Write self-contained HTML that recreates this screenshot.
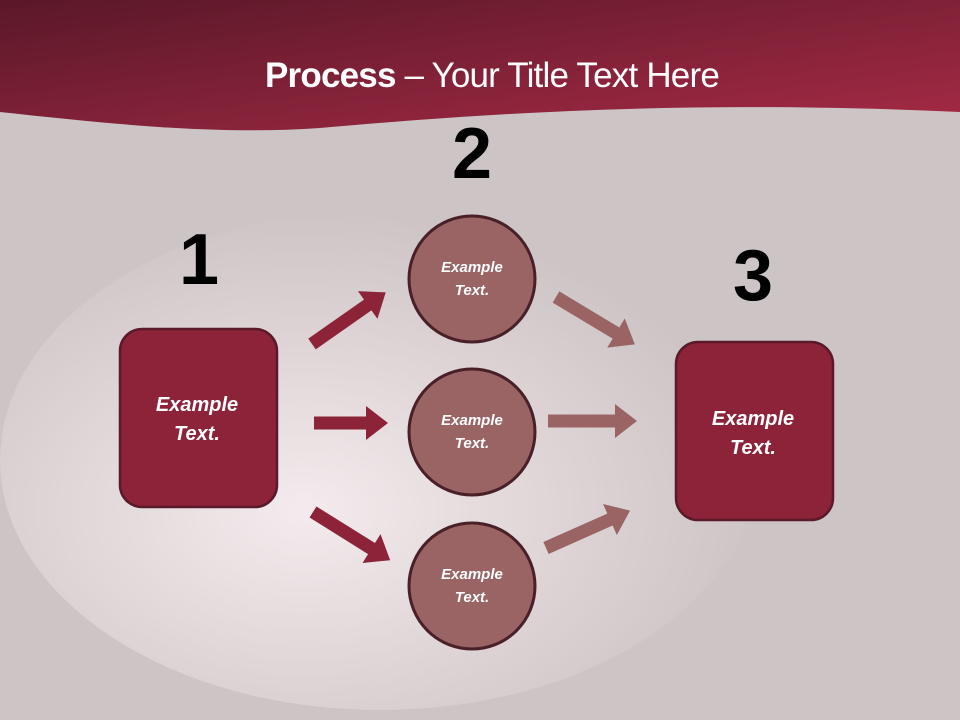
<!DOCTYPE html>
<html><head><meta charset="utf-8"><style>
html,body{margin:0;padding:0;width:960px;height:720px;overflow:hidden;}
svg{display:block;}
text{font-family:"Liberation Sans",sans-serif;}
</style></head><body>
<svg width="960" height="720" viewBox="0 0 960 720" xmlns="http://www.w3.org/2000/svg">
<defs>
<linearGradient id="hd" x1="0" y1="0" x2="1" y2="1">
<stop offset="0" stop-color="#5a1828"/><stop offset="1" stop-color="#a62a46"/>
</linearGradient>
<radialGradient id="bgl" cx="0.4" cy="0.6" r="0.6">
<stop offset="0" stop-color="#f3ebed"/><stop offset="0.6" stop-color="#ddd3d5"/><stop offset="1" stop-color="#cdc4c6"/>
</radialGradient>
</defs>
<rect width="960" height="720" fill="#cdc4c6"/>
<ellipse cx="380" cy="460" rx="380" ry="250" fill="url(#bgl)"/>
<path d="M0,112 C120,125 220,135 320,128 C500,112 700,100 960,112 L960,0 L0,0 Z" fill="url(#hd)"/>
<text x="492" y="87" text-anchor="middle" fill="#fff" font-size="35" letter-spacing="-0.8"><tspan font-weight="bold">Process</tspan> – Your Title Text Here</text>
<text x="199" y="284" text-anchor="middle" font-size="72" font-weight="bold" fill="#000">1</text>
<text x="472" y="178" text-anchor="middle" font-size="72" font-weight="bold" fill="#000">2</text>
<text x="753" y="300" text-anchor="middle" font-size="72" font-weight="bold" fill="#000">3</text>
<g fill="#8c2339">
<g transform="translate(312,344) rotate(-35)"><polygon points="0,-6.5 68,-6.5 68,-17 90,0 68,17 68,6.5 0,6.5"/></g>
<g transform="translate(314,423)"><polygon points="0,-6.5 52,-6.5 52,-17 74,0 52,17 52,6.5 0,6.5"/></g>
<g transform="translate(313,512) rotate(32)"><polygon points="0,-6.5 69,-6.5 69,-17 91,0 69,17 69,6.5 0,6.5"/></g>
</g>
<g fill="#9a6464">
<g transform="translate(556,297) rotate(31)"><polygon points="0,-6.5 70,-6.5 70,-17 92,0 70,17 70,6.5 0,6.5"/></g>
<g transform="translate(548,421)"><polygon points="0,-6.5 67,-6.5 67,-17 89,0 67,17 67,6.5 0,6.5"/></g>
<g transform="translate(546,548) rotate(-24)"><polygon points="0,-6.5 70,-6.5 70,-17 92,0 70,17 70,6.5 0,6.5"/></g>
</g>
<rect x="120" y="329" width="157" height="178" rx="22" fill="#8c2339" stroke="#5a1a2a" stroke-width="2.5"/>
<rect x="676" y="342" width="157" height="178" rx="22" fill="#8c2339" stroke="#5a1a2a" stroke-width="2.5"/>
<g fill="#9a6464" stroke="#4a2028" stroke-width="3">
<circle cx="472" cy="279" r="63"/><circle cx="472" cy="432" r="63"/><circle cx="472" cy="586" r="63"/>
</g>
<g fill="#fff" font-style="italic" font-weight="bold" text-anchor="middle">
<text x="197" y="411" font-size="20">Example</text><text x="197" y="440" font-size="20">Text.</text>
<text x="753" y="425" font-size="20">Example</text><text x="753" y="454" font-size="20">Text.</text>
<text x="472" y="272" font-size="15">Example</text><text x="472" y="295" font-size="15">Text.</text>
<text x="472" y="425" font-size="15">Example</text><text x="472" y="448" font-size="15">Text.</text>
<text x="472" y="579" font-size="15">Example</text><text x="472" y="602" font-size="15">Text.</text>
</g>
</svg>
</body></html>
